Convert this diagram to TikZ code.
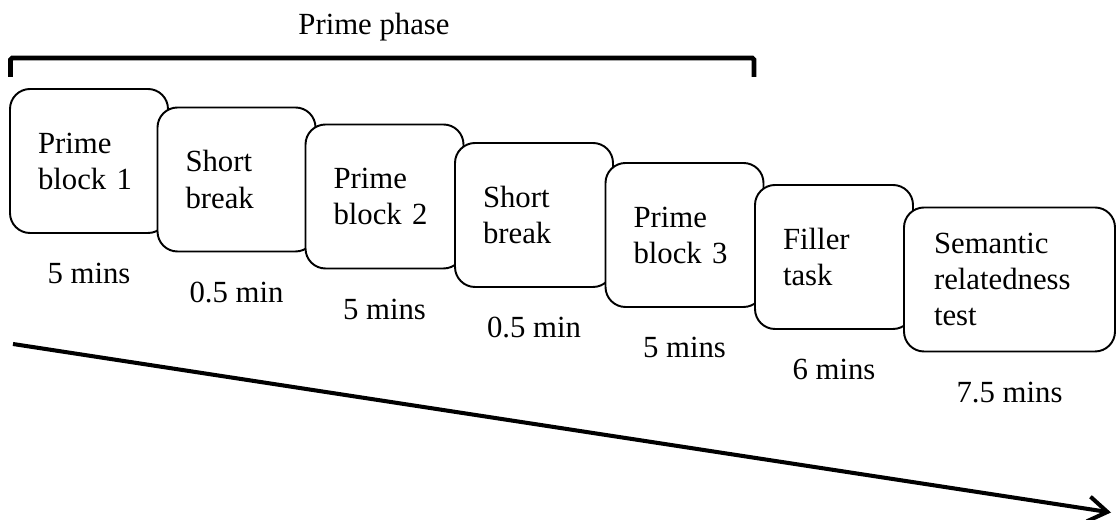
\documentclass[tikz,border=0pt]{standalone}
\usepackage{fontspec}
\setmainfont{Liberation Serif}
\usepackage{tikz}
\usetikzlibrary{positioning,arrows.meta}
\tikzstyle{every node}=[font=\fontsize{17.5}{20.5}\selectfont]
\tikzstyle{stage}=[draw=black,line width=1.1pt,fill=white,rounded corners=0.4cm,
  text width=2.04cm,inner xsep=0.56cm,minimum height=2.88cm,align=left]
\tikzstyle{dur}=[inner sep=0pt]

\begin{document}
\begin{tikzpicture}
    \useasboundingbox (0,0) rectangle (22.32,10.4);
    % phase bracket
    \node[anchor=base] (phase) at (7.48,9.7) {Prime phase};
    \coordinate (ph1) at (0.21,8.86);
    \coordinate (ph2) at (15.08,8.86);
    \draw[line width=2.8pt,rounded corners=1pt] (ph1) -- ++(0,0.38) -| (ph2);
    % blocks
    \node[stage] (b1) at (1.78,7.18) {Prime\\block 1};
    \node[stage] (b2) at (4.73,6.81) {Short\\break};
    \node[stage] (b3) at (7.69,6.47) {Prime\\block 2};
    \node[stage] (b4) at (10.68,6.10) {Short\\break};
    \node[stage] (b5) at (13.69,5.70) {Prime\\block 3};
    \node[stage] (b6) at (16.68,5.26) {Filler\\task};
    \node[stage,text width=3.02cm,inner xsep=0.6cm] (b7) at (20.19,4.81) {Semantic\\relatedness\\test};
    % durations
    \node[dur,below=0.58cm of b1] (d1) {5 mins};
    \node[dur,below=0.58cm of b2] (d2) {0.5 min};
    \node[dur,below=0.58cm of b3] (d3) {5 mins};
    \node[dur,below=0.58cm of b4] (d4) {0.5 min};
    \node[dur,below=0.58cm of b5] (d5) {5 mins};
    \node[dur,below=0.58cm of b6] (d6) {6 mins};
    \node[dur,below=0.58cm of b7] (d7) {7.5 mins};
    % time axis
    \coordinate (tstart) at (0.26,3.52);
    \coordinate (tend) at (22.22,0.15);
    \draw[line width=2.3pt,-{Straight Barb[length=0.38cm,width=0.5cm]}] (tstart) -- (tend);
\end{tikzpicture}
\end{document}
